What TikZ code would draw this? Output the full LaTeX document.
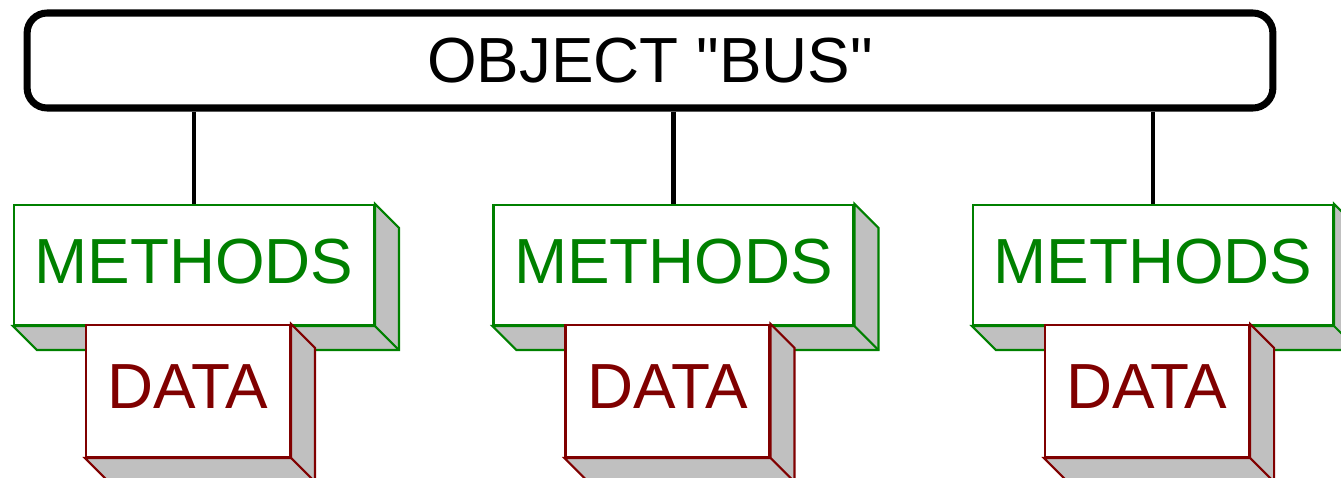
\documentclass[tikz,border=0pt]{standalone}
\usepackage{fontspec}
\setmainfont{Liberation Sans}
\usepackage{xcolor}
\usetikzlibrary{positioning}
\definecolor{methgreen}{RGB}{0,128,0}
\definecolor{datared}{RGB}{128,0,0}
\definecolor{sidegray}{RGB}{192,192,192}
\tikzset{
  bigfont/.style={font=\fontsize{36.3}{43}\selectfont},
  objbox/.style={draw, line width=4pt, rounded corners=0.4cm, bigfont,
    minimum width=24.92cm, minimum height=1.9cm},
  methbox/.style={draw=methgreen, line width=1.2pt, fill=white, text=methgreen, bigfont,
    minimum width=7.2cm, minimum height=2.4cm, text depth=0.16cm},
  databox/.style={draw=datared, line width=1.2pt, fill=white, text=datared, bigfont,
    minimum width=4.08cm, minimum height=2.64cm, text depth=0.16cm},
  link/.style={line width=2.8pt}
}
% gray right and bottom faces of a box: node name, line colour
\newcommand{\boxdepth}[2]{%
  \draw[#2, line width=1.2pt, fill=sidegray]
    (#1.north east) -- ++(24,24) -- ([shift={(24,24)}]#1.south east)
    -- ([shift={(24,24)}]#1.south west) -- (#1.south west)
    -- (#1.south east) -- cycle;
  \draw[#2, line width=1.2pt] (#1.south east) -- ++(24,24);
}

\begin{document}
\begin{tikzpicture}[x=0.02cm, y=-0.02cm]
    \useasboundingbox (0,0) rectangle (1341,477);

    \node[objbox] (bus) at (650,60.5) {OBJECT \textquotedbl BUS\textquotedbl};

    \foreach \i in {1,2,3} {
        \node[methbox] (m\i) at ({194+479.5*(\i-1)},265) {METHODS};
        \boxdepth{m\i}{methgreen}
        \draw[link] (bus.south -| m\i.north) -- (m\i.north);

        \node[databox, below=-1.2pt of m\i, xshift=-0.12cm] (d\i) {DATA};
        \boxdepth{d\i}{datared}
    }
\end{tikzpicture}
\end{document}
